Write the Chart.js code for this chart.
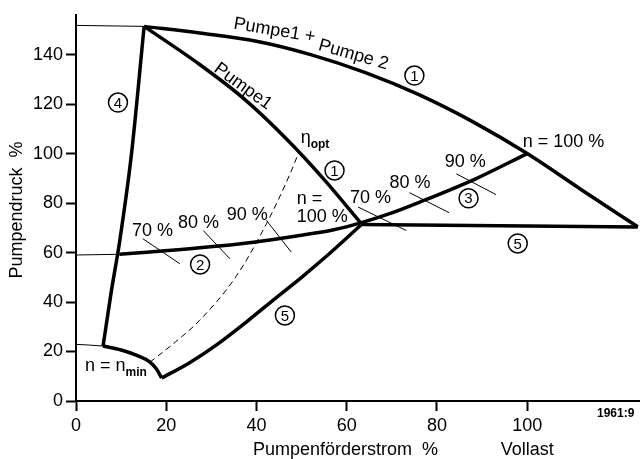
<!DOCTYPE html>
<html>
<head>
<meta charset="utf-8">
<script src="https://cdn.jsdelivr.net/npm/chart.js@4"></script>
<style>
  body { margin: 0; background: #fff; }
  canvas { display: block; }
</style>
</head>
<body>
<canvas id="pumpChart" width="640" height="459"></canvas>
<script>
// Pumpenförderstrom (Q, %) / Pumpendruck (H, %)
const topCurveQ = [15.1, 27.4, 40, 52, 64, 76, 88, 100, 112, 124.5]
const topCurveH = [151.4, 148.7, 145.4, 140, 132.8, 123.8, 112.8, 100, 85.4, 70.4]
const topThinQ = [0, 15.1]
const topThinH = [151.8, 151.4]

const pump1Q = [15.1, 27.4, 37, 46.6, 55, 63.1]
const pump1H = [151.4, 136, 122.5, 106, 89.5, 72]

const limit4Q = [6.0, 7.8, 9.7, 12.3, 15.1]
const limit4H = [22.2, 44, 64.8, 99.9, 151.4]

const nminThinQ = [0, 3, 6]
const nminThinH = [22.9, 22.6, 22.2]
const nminQ = [6, 10, 13.5, 16.4, 17.8, 19]
const nminH = [22.2, 20.6, 18.4, 15.7, 13, 9.3]

const lowerQ = [19, 25, 31, 38, 44.4, 50, 56, 63.1]
const lowerH = [9.3, 15.3, 22.5, 32.3, 41.8, 50, 59.3, 71]

const flatQ = [63.1, 124.5]
const flatH = [71.3, 70.3]

const systemThinQ = [0, 9.6]
const systemThinH = [59, 59.3]
const systemQ = [9.6, 16.4, 27.4, 39.3, 49.6, 56.9, 63.1, 70, 76.1, 88.7, 100]
const systemH = [59.3, 60.2, 61.9, 64.2, 66.9, 69.1, 72, 76, 80.3, 89.9, 100]

const etaOptQ = [16.4, 22, 27.4, 35.5, 42.2, 47.3, 49.5]
const etaOptH = [15.7, 23.8, 32.6, 50.4, 71.6, 91.2, 101]

// efficiency marks 70 / 80 / 90 % on both system curves
const effStartQ = [14.8, 28.2, 42.2, 62.5, 73.9, 84.3]
const effStartH = [65.6, 68.9, 73, 78.4, 84.2, 91.8]
const effEndQ = [23, 34.1, 47.7, 73.2, 82.7, 93.1]
const effEndH = [55.5, 57.5, 60.2, 68.9, 76.1, 83.4]

const xTickValues = [0, 20, 40, 60, 80, 100]
const yTickValues = [0, 20, 40, 60, 80, 100, 120, 140]

const FONT = '"Liberation Sans", Arial, Helvetica, sans-serif'

function toPoints(qs, hs) {
  return qs.map((q, i) => ({ x: q, y: hs[i] }))
}

function lineSet(qs, hs, width, dash) {
  return {
    data: toPoints(qs, hs),
    borderColor: '#000',
    borderWidth: width,
    borderDash: dash || [],
    pointRadius: 0,
    cubicInterpolationMode: 'monotone',
    borderJoinStyle: 'round',
    fill: false
  }
}

const datasets = [
  lineSet(topThinQ, topThinH, 1),
  lineSet(topCurveQ, topCurveH, 3.5),
  lineSet(pump1Q, pump1H, 3.5),
  lineSet(limit4Q, limit4H, 3.5),
  lineSet(nminThinQ, nminThinH, 1),
  lineSet(nminQ, nminH, 3.5),
  lineSet(lowerQ, lowerH, 3.5),
  lineSet(flatQ, flatH, 3.5),
  lineSet(systemThinQ, systemThinH, 1),
  lineSet(systemQ, systemH, 3.5),
  lineSet(etaOptQ, etaOptH, 1, [6, 4])
]
for (let i = 0; i < effStartQ.length; i++) {
  datasets.push(lineSet([effStartQ[i], effEndQ[i]], [effStartH[i], effEndH[i]], 1))
}

// labels placed in data units (left/baseline unless noted)
const notes = [
  { text: 'n =', q: 48.9, h: 79.8 },
  { text: '100 %', q: 48.9, h: 72.2 },
  { text: '70 %', q: 60.7, h: 80.2 },
  { text: '80 %', q: 69.5, h: 85.9 },
  { text: '90 %', q: 81.7, h: 94.4 },
  { text: '70 %', q: 12.4, h: 66.5 },
  { text: '80 %', q: 22.6, h: 70.1 },
  { text: '90 %', q: 33.4, h: 73.0 },
  { text: 'n = 100 %', q: 99.0, h: 102.5 },
  { text: 'Pumpe1 +', q: 34.8, h: 150.5, rot: 9.5 },
  { text: 'Pumpe 2', q: 53.5, h: 142.0, rot: 16 },
  { text: 'Pumpe1', q: 37.0, h: 127.1, rot: 36, center: true }
]
const subNotes = [
  { text: 'n = n', sub: 'min', q: 2.0, h: 12.0 },
  { text: 'η', sub: 'opt', q: 49.8, h: 104.1 }
]
const circled = [
  { n: '1', q: 75.0, h: 131.5 },
  { n: '1', q: 57.3, h: 93.2 },
  { n: '2', q: 27.5, h: 55.2 },
  { n: '3', q: 87.0, h: 81.9 },
  { n: '4', q: 9.3, h: 120.6 },
  { n: '5', q: 97.9, h: 63.7 },
  { n: '5', q: 46.3, h: 34.6 }
]

const notesPlugin = {
  id: 'notes',
  afterDatasetsDraw(chart) {
    const ctx = chart.ctx
    const xs = chart.scales.x
    const ys = chart.scales.y
    const area = chart.chartArea
    ctx.save()
    ctx.fillStyle = '#000'
    ctx.strokeStyle = '#000'

    for (const n of notes) {
      const px = xs.getPixelForValue(n.q)
      const py = ys.getPixelForValue(n.h)
      ctx.save()
      ctx.translate(px, py)
      if (n.rot) ctx.rotate(n.rot * Math.PI / 180)
      ctx.font = `18px ${FONT}`
      ctx.textAlign = n.center ? 'center' : 'left'
      ctx.textBaseline = n.center ? 'middle' : 'alphabetic'
      ctx.fillText(n.text, 0, 0)
      ctx.restore()
    }

    for (const n of subNotes) {
      const px = xs.getPixelForValue(n.q)
      const py = ys.getPixelForValue(n.h)
      ctx.font = `18px ${FONT}`
      ctx.textAlign = 'left'
      ctx.textBaseline = 'alphabetic'
      ctx.fillText(n.text, px, py)
      const w = ctx.measureText(n.text).width
      ctx.font = `bold 12px ${FONT}`
      ctx.fillText(n.sub, px + w, py + 5)
    }

    for (const c of circled) {
      const px = xs.getPixelForValue(c.q)
      const py = ys.getPixelForValue(c.h)
      ctx.beginPath()
      ctx.arc(px, py, 9.5, 0, Math.PI * 2)
      ctx.fillStyle = '#fff'
      ctx.fill()
      ctx.lineWidth = 1.5
      ctx.stroke()
      ctx.fillStyle = '#000'
      ctx.font = `15px ${FONT}`
      ctx.textAlign = 'center'
      ctx.textBaseline = 'middle'
      ctx.fillText(c.n, px, py + 1)
    }

    // axis titles
    ctx.font = `18px ${FONT}`
    ctx.textAlign = 'left'
    ctx.textBaseline = 'alphabetic'
    ctx.fillText('Pumpenförderstrom  %', area.left + 177, area.bottom + 54)
    ctx.textAlign = 'center'
    ctx.fillText('Vollast', xs.getPixelForValue(100), area.bottom + 54)
    ctx.font = `bold 12px ${FONT}`
    ctx.textAlign = 'left'
    ctx.fillText('1961:9', 597, area.bottom + 16)

    ctx.save()
    ctx.translate(22, 210)
    ctx.rotate(-Math.PI / 2)
    ctx.font = `18px ${FONT}`
    ctx.textAlign = 'center'
    ctx.fillText('Pumpendruck  %', 0, 0)
    ctx.restore()

    ctx.restore()
  }
}

const axisStyle = {
  border: { display: true, color: '#000', width: 2 },
  grid: { drawOnChartArea: false, drawTicks: true, tickLength: 10, tickWidth: 2, tickColor: '#000' }
}

new Chart(document.getElementById('pumpChart'), {
  type: 'line',
  data: { datasets: datasets },
  options: {
    responsive: false,
    animation: false,
    layout: { padding: { top: 15, right: 0, left: 0, bottom: 0 } },
    plugins: { legend: { display: false }, tooltip: { enabled: false } },
    scales: {
      x: {
        type: 'linear',
        min: 0,
        max: 125,
        ...axisStyle,
        ticks: { stepSize: 20, padding: 4, color: '#000', font: { family: FONT, size: 18 } },
        afterBuildTicks: s => { s.ticks = xTickValues.map(v => ({ value: v })) },
        afterFit: s => { s.height = 58 }
      },
      y: {
        type: 'linear',
        min: 0,
        max: 156,
        ...axisStyle,
        ticks: { stepSize: 20, padding: 3, color: '#000', font: { family: FONT, size: 18 } },
        afterBuildTicks: s => { s.ticks = yTickValues.map(v => ({ value: v })) },
        afterFit: s => { s.width = 76 }
      }
    }
  },
  plugins: [notesPlugin]
})
</script>
</body>
</html>
